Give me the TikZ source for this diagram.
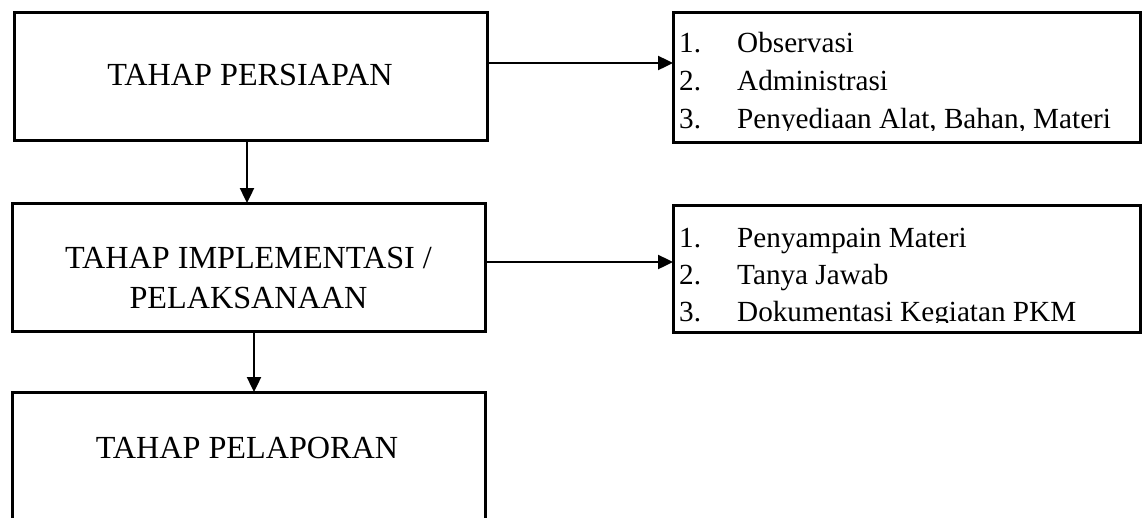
\documentclass[tikz,border=0pt]{standalone}
\usepackage{fontspec}
\setmainfont{Liberation Serif}
\usetikzlibrary{arrows.meta}
\begin{document}
\begin{tikzpicture}[x=1pt,y=-1pt,
  box/.style={draw,line width=3pt,anchor=north west,inner sep=0pt,outer sep=0pt},
  arr/.style={line width=2.4pt,-{Triangle[length=15pt,width=14pt]}},
  big/.style={font=\fontsize{32.2}{38}\selectfont,inner sep=0pt,anchor=base},
  item/.style={font=\fontsize{29.2}{34}\selectfont,inner sep=0pt,anchor=base west}]
\useasboundingbox (0,0) rectangle (1142,517);
\clip (0,0) rectangle (1142,517);
% left boxes
\node[box,minimum width=473pt,minimum height=128pt] (b1) at (14,12) {};
\node[box,minimum width=473pt,minimum height=128pt] (b2) at (12,203) {};
\node[box,minimum width=473pt,minimum height=200pt] (b3) at (12,392) {};
% right boxes
\node[box,minimum width=467pt,minimum height=130pt] (r1) at (673,12) {};
\node[box,minimum width=467pt,minimum height=127pt] (r2) at (673,205) {};
% left texts
\node[big] (t1) at (250,85) {TAHAP PERSIAPAN};
\node[big] (t2a) at (248.5,268) {TAHAP IMPLEMENTASI /};
\node[big] (t2b) at (248.5,308) {PELAKSANAAN};
\node[big] (t3) at (247,458) {TAHAP PELAPORAN};
% list 1
\begin{scope}
\clip (673,12) rectangle (1141,130);
\node[item] (n11) at (679,52) {1.};
\node[item] (i11) at (737,52) {Observasi};
\node[item] (n12) at (679,90) {2.};
\node[item] (i12) at (737,90) {Administrasi};
\node[item] (n13) at (679,128) {3.};
\node[item] (i13) at (737,128) {Penyediaan Alat, Bahan, Materi};
\end{scope}
% list 2
\begin{scope}
\clip (673,205) rectangle (1141,322.5);
\node[item] (n21) at (679,247) {1.};
\node[item] (i21) at (737,247) {Penyampain Materi};
\node[item] (n22) at (679,284) {2.};
\node[item] (i22) at (737,284) {Tanya Jawab};
\node[item] (n23) at (679,321) {3.};
\node[item] (i23) at (737,321) {Dokumentasi Kegiatan PKM};
\end{scope}
% connectors
\draw[arr] ([xshift=-3.5pt]b1.south) -- ([xshift=-3.5pt]b1.south |- b2.north);
\draw[arr] ([xshift=5.5pt]b2.south) -- ([xshift=5.5pt]b2.south |- b3.north);
\draw[arr] ([yshift=13pt]b1.east) -- ([yshift=13pt]b1.east -| r1.west);
\draw[arr] ([yshift=5pt]b2.east) -- ([yshift=5pt]b2.east -| r2.west);
\end{tikzpicture}
\end{document}
